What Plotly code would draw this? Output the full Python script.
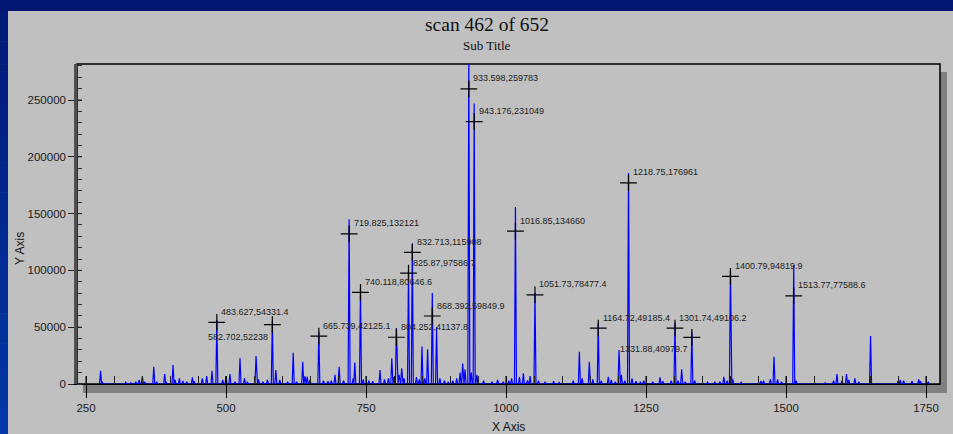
import plotly.graph_objects as go

# ---------------- data ----------------
# profile peaks (m/z, intensity)
peak_mz = [276, 279, 321, 330, 339, 345, 350.6, 355, 371, 376, 390.5, 393, 405.4, 409, 416.7, 423, 430,
           439.9, 443, 457.7, 465.5, 475, 483.627, 494, 500, 507, 516, 525, 533, 538, 553.6, 558, 566, 574,
           582.702, 589, 596, 610, 620, 626, 637, 641, 645, 650, 665.739, 674, 682, 688, 694.6,
           702, 710, 719.825, 727, 730, 740.118, 745, 755, 762, 775, 783, 790, 796, 800, 804.252, 809,
           813.7, 818, 825.87, 832.713, 840, 845, 850, 855, 860, 868.392, 876, 882, 890, 897, 905, 912,
           918, 922.6, 926.8, 933.598, 938, 943.176, 948, 960, 975, 985, 995, 1005, 1010, 1016.85,
           1024, 1031, 1038, 1043, 1051.73, 1058, 1070, 1085, 1095, 1120, 1131, 1136, 1148.8, 1155,
           1164.72, 1170, 1182.7, 1188, 1195, 1201.8, 1206, 1212, 1218.75, 1225, 1232, 1240, 1246,
           1262, 1275, 1280, 1295, 1301.74, 1307, 1313.7, 1320, 1331.88, 1337, 1360, 1373, 1382,
           1389, 1395, 1400.79, 1405, 1420, 1455, 1460, 1472, 1478.6, 1485, 1492, 1513.77, 1518,
           1570, 1585, 1591, 1600, 1608, 1612, 1623, 1630, 1651, 1700, 1704, 1710, 1725, 1737,
           1740, 1754]
peak_int = [11700, 2000, 1500, 1200, 2000, 3500, 7000, 2000, 15200, 2000, 8800, 2000, 16700, 3500, 5000,
            2600, 2000, 5900, 2500, 5000, 7000, 11700, 56300, 3500, 7000, 8800, 2000, 22600, 5000, 2000,
            24600, 4000, 2000, 3500, 55500, 12300, 3500, 2000, 27500, 2000, 19600, 7000, 6400, 3500,
            45800, 3000, 2500, 3000, 8000,
            15200, 3000, 145000, 5000, 18800, 84500, 4000, 3000, 2500, 12300, 4000, 5000, 22600, 6000,
            49300, 8000, 13800, 5000, 100000, 124000, 6000, 4000, 33000, 5000, 30500, 80000, 50000,
            5000, 3000, 2000, 3000, 5000, 10000, 18000, 13000, 290000, 10000, 247000, 8000, 3000, 2000,
            3500, 2000, 3000, 5000, 155800, 6000, 9400, 3000, 7000, 80000, 3000, 2000, 2500, 1500, 3000,
            28400, 5000, 19600, 4000, 53700, 3000, 6400, 3500, 2000, 29900, 8000, 3000, 185700, 5000,
            2500, 2000, 3000, 2000, 5900, 2500, 3000, 53700, 3000, 12900, 2000, 45800, 3000, 1500, 2000,
            2000, 6400, 3000, 100300, 4000, 1500, 2500, 3000, 4000, 24000, 4000, 2000, 104700, 3000,
            1000, 3000, 8800, 3000, 8800, 3500, 5000, 2000, 42250, 2500, 3500, 3000, 2500, 4000,
            2500, 2000]

# labelled (centroid) points
label_mz = [483.627, 582.702, 665.739, 719.825, 740.118, 804.252, 825.87, 832.713, 868.392, 933.598,
            943.176, 1016.85, 1051.73, 1164.72, 1218.75, 1301.74, 1331.88, 1400.79, 1513.77]
label_int = [54331.4, 52238, 42125.1, 132121, 80646.6, 41137.8, 97586.7, 115908, 59849.9, 259783,
             231049, 134660, 78477.4, 49185.4, 176961, 49106.2, 40979.7, 94819.9, 77588.6]
# labels placed below-left instead of above-right
below_left = {582.702, 1331.88}

x_major = [250, 500, 750, 1000, 1250, 1500, 1750]
y_major = [0, 50000, 100000, 150000, 200000, 250000]

title_text = "scan 462 of 652"
subtitle_text = "Sub Title"
x_title = "X Axis"
y_title = "Y Axis"

# ---------------- figure ----------------
W, H = 953, 434
L, R, T, B = 77, 13, 64, 50
PW, PH = W - L - R, H - T - B


def px(xp):
    return (xp - L) / PW


def py(yp):
    return (H - B - yp) / PH


half_w = 1.8
pts = sorted(zip(peak_mz, peak_int))
xs, ys = [], []
for m, h in pts:
    xs += [m - half_w, m, m + half_w]
    ys += [0, h, 0]

fig = go.Figure()
fig.add_trace(go.Scatter(x=xs, y=ys, mode="lines",
                         line=dict(color="#0000FF", width=1.2), hoverinfo="skip",
                         showlegend=False, cliponaxis=True))
fig.add_trace(go.Scatter(x=label_mz, y=label_int, mode="markers",
                         marker=dict(symbol="cross-thin", size=12,
                                     line=dict(color="#000000", width=1.2)),
                         showlegend=False, cliponaxis=False))

annotations = []
lab_font = dict(family="Liberation Sans", size=9, color="#202020")
for m, v in zip(label_mz, label_int):
    txt = "%g,%g" % (m, v)
    if m in below_left:
        annotations.append(dict(x=m, y=v, xref="x", yref="y", text=txt, showarrow=False,
                                xanchor="right", yanchor="middle", xshift=-2, yshift=-12,
                                font=lab_font))
    else:
        annotations.append(dict(x=m, y=v, xref="x", yref="y", text=txt, showarrow=False,
                                xanchor="left", yanchor="middle", xshift=2.5, yshift=10.5,
                                font=lab_font))

annotations += [
    dict(x=px(487), y=py(24), xref="paper", yref="paper", text=title_text, showarrow=False,
         xanchor="center", yanchor="middle",
         font=dict(family="Liberation Serif", size=19.5, color="#101010")),
    dict(x=px(487), y=py(45), xref="paper", yref="paper", text=subtitle_text, showarrow=False,
         xanchor="center", yanchor="middle",
         font=dict(family="Liberation Serif", size=13, color="#101010")),
    dict(x=px(508), y=py(427), xref="paper", yref="paper", text=x_title, showarrow=False,
         xanchor="center", yanchor="middle",
         font=dict(family="Liberation Sans", size=12, color="#101010")),
    dict(x=px(20), y=py(249), xref="paper", yref="paper", text=y_title, showarrow=False,
         xanchor="center", yanchor="middle", textangle=-90,
         font=dict(family="Liberation Sans", size=12, color="#101010")),
]

shapes = []
# blue outer border (top band + left gradient band)
shapes.append(dict(type="rect", xref="paper", yref="paper", x0=px(0), x1=px(W), y0=py(0), y1=py(11),
                   fillcolor="#001670", line=dict(width=0), layer="below"))
n = 14
c0, c1 = (0x00, 0x1A, 0x78), (0x00, 0x36, 0xA6)
for i in range(n):
    t = i / (n - 1)
    col = "rgb(%d,%d,%d)" % tuple(round(a + (b - a) * t) for a, b in zip(c0, c1))
    y0 = 11 + (H - 11) * i / n
    y1 = 11 + (H - 11) * (i + 1) / n
    shapes.append(dict(type="rect", xref="paper", yref="paper", x0=px(0), x1=px(8),
                       y0=py(y0), y1=py(y1 + 0.5), fillcolor=col, line=dict(width=0), layer="below"))
# drop shadow of plot frame
shapes.append(dict(type="rect", xref="paper", yref="paper", x0=1, x1=px(947), y0=py(72), y1=py(393),
                   fillcolor="#808080", line=dict(width=0), layer="below"))
shapes.append(dict(type="rect", xref="paper", yref="paper", x0=px(83), x1=1, y0=0, y1=py(393),
                   fillcolor="#808080", line=dict(width=0), layer="below"))
# frame
shapes.append(dict(type="rect", xref="paper", yref="paper", x0=0, x1=1, y0=0, y1=1,
                   line=dict(color="#000000", width=1.5), layer="below"))
# inner parts of major ticks
for v in x_major:
    shapes.append(dict(type="line", xref="x", yref="paper", ysizemode="pixel", yanchor=0,
                       x0=v, x1=v, y0=0, y1=8, line=dict(color="#000000", width=1), layer="above"))
for v in y_major:
    shapes.append(dict(type="line", xref="paper", yref="y", xsizemode="pixel", xanchor=0,
                       x0=0, x1=5, y0=v, y1=v, line=dict(color="#202020", width=1), layer="above"))

tickfont = dict(family="Liberation Sans", size=11.5, color="#1a1a1a")
fig.update_layout(
    width=W, height=H,
    margin=dict(l=L, r=R, t=T, b=B, pad=0),
    paper_bgcolor="#C0C0C0", plot_bgcolor="rgba(0,0,0,0)",
    showlegend=False,
    annotations=annotations, shapes=shapes,
    xaxis=dict(range=[233.9, 1775], tickvals=x_major, ticktext=[str(v) for v in x_major],
               ticks="outside", ticklen=13, tickwidth=1, tickcolor="#000000",
               minor=dict(dtick=50, tick0=0, ticks="inside", ticklen=8, tickwidth=1, tickcolor="#202020"),
               showline=True, linecolor="#000000", linewidth=1.2,
               showgrid=False, zeroline=False, tickfont=tickfont, fixedrange=True),
    yaxis=dict(range=[0, 281690], tickvals=y_major, ticktext=[str(v) for v in y_major],
               ticks="outside", ticklen=6, tickwidth=1, tickcolor="#202020",
               minor=dict(dtick=10000, tick0=0, ticks="inside", ticklen=5, tickwidth=1, tickcolor="#303030"),
               showline=True, linecolor="#505050", linewidth=2.5,
               showgrid=False, zeroline=False, tickfont=tickfont, fixedrange=True),
)

fig.write_html(
    "out.html",
    config={"displayModeBar": False},
    post_script="document.body.style.margin='0';document.body.style.overflow='hidden';"
                "document.body.style.background='#C0C0C0';",
)
